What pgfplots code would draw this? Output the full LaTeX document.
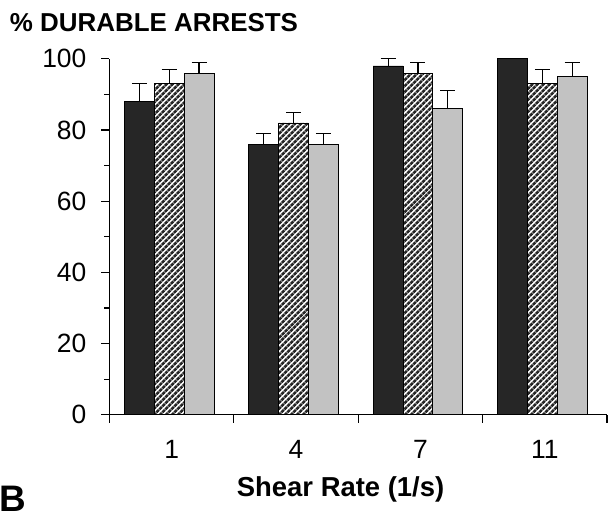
\documentclass[border=0pt]{standalone}
\usepackage{fontspec}
\setmainfont{Liberation Sans}
\usepackage{pgfplots}
\usepackage{pgfplotstable}
\pgfplotsset{compat=1.18}
\usetikzlibrary{patterns.meta}
\definecolor{darkbar}{gray}{0.15}
\definecolor{lightbar}{gray}{0.76}

\pgfplotstableread{
x black blackerr hatch hatcherr grey greyerr
0 88 5 93 4 96 3
1 76 3 82 3 76 3
2 98 2 96 3 86 5
3 100 0 93 4 95 4
}\datatable

\begin{document}
\begin{tikzpicture}
\begin{axis}[
  scale only axis, width=499pt, height=357pt,
  xmin=-0.5, xmax=3.5, ymin=0, ymax=100,
  clip=false,
  axis x line*=bottom, axis y line*=left,
  axis line style={line width=1.2pt, -},
  tick style={line width=1.2pt, black},
  tick align=outside,
  major tick length=8pt, minor tick length=5pt,
  ytick={0,20,...,100}, minor ytick={10,30,...,90},
  xtick={-0.5,0.5,1.5,2.5,3.5}, xticklabels={},
  extra x ticks={0,1,2,3}, extra x tick labels={1,4,7,11},
  extra x tick style={major tick length=0pt, tick style={draw=none}},
  /pgf/number format/assume math mode=true,
  tick label style={font=\fontsize{26.5}{30}\selectfont},
  x tick label style={anchor=north, inner sep=0pt},
  xticklabel shift=25pt,
  y tick label style={inner sep=0pt},
  yticklabel shift=15pt,
  bar width=0.24, bar shift=0pt,
]
\addplot[ybar, fill=darkbar, draw=black, line width=0.8pt,
  error bars/.cd, y dir=plus, y explicit,
  error bar style={line width=1.2pt, black},
  error mark options={rotate=90, mark size=7.5pt, line width=1.2pt, black}]
  table[x expr=\thisrow{x}-0.26, y=black, y error=blackerr]{\datatable};
\addplot[ybar, fill=white, draw=black, line width=0.8pt,
  postaction={pattern={Lines[angle=45, distance=4pt, line width=2.8pt]}, pattern color=darkbar},
  error bars/.cd, y dir=plus, y explicit,
  error bar style={line width=1.2pt, black},
  error mark options={rotate=90, mark size=7.5pt, line width=1.2pt, black}]
  table[x expr=\thisrow{x}-0.02, y=hatch, y error=hatcherr]{\datatable};
\addplot[ybar, fill=lightbar, draw=black, line width=0.8pt,
  error bars/.cd, y dir=plus, y explicit,
  error bar style={line width=1.2pt, black},
  error mark options={rotate=90, mark size=7.5pt, line width=1.2pt, black}]
  table[x expr=\thisrow{x}+0.22, y=grey, y error=greyerr]{\datatable};
\node[anchor=base west, inner sep=0pt, font=\bfseries\fontsize{26}{30}\selectfont,
  xshift=-100pt, yshift=27pt] at (rel axis cs:0,1) {\% DURABLE ARRESTS};
\node[anchor=base, inner sep=0pt, font=\bfseries\fontsize{27.5}{30}\selectfont,
  yshift=-82pt] at (rel axis cs:0.4645,0) {Shear Rate (1/s)};
\node[anchor=base west, inner sep=0pt, font=\bfseries\fontsize{37}{40}\selectfont,
  xshift=-110pt, yshift=-97pt] at (rel axis cs:0,0) {B};
\end{axis}
\useasboundingbox (-108pt,-104pt) rectangle (505pt,416pt);
\end{tikzpicture}
\end{document}
